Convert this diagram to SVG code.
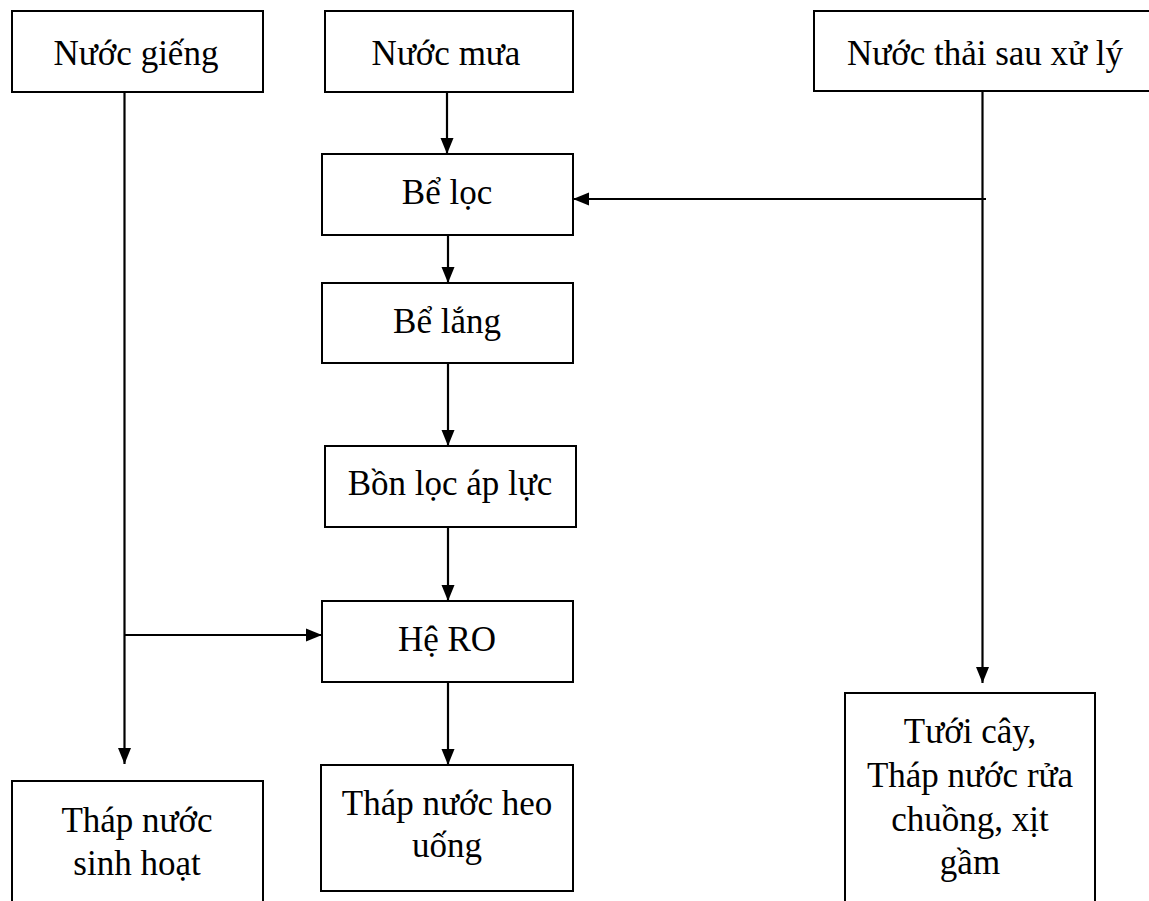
<svg xmlns="http://www.w3.org/2000/svg" width="1149" height="901" viewBox="0 0 1149 901">
<defs>
<marker id="arr" markerWidth="16" markerHeight="14" refX="16" refY="7" orient="auto" markerUnits="userSpaceOnUse">
<path d="M0,0.5 L16,7 L0,13.5 Z" fill="#000"/>
</marker>
<style>
.box{fill:#fff;stroke:#000;stroke-width:2}
.t{font-family:"Liberation Serif","Times New Roman",serif;font-size:35px;fill:#000;text-anchor:middle}
.c{stroke:#000;stroke-width:2.2;fill:none}
</style>
</defs>
<rect width="1149" height="901" fill="#fff"/>
<g id="connectors">
<line class="c" x1="124.5" y1="92" x2="124.5" y2="764" marker-end="url(#arr)"/>
<line class="c" x1="124.5" y1="635" x2="322" y2="635" marker-end="url(#arr)"/>
<line class="c" x1="447" y1="92" x2="447" y2="154" marker-end="url(#arr)"/>
<line class="c" x1="448" y1="235" x2="448" y2="283" marker-end="url(#arr)"/>
<line class="c" x1="448" y1="363" x2="448" y2="446" marker-end="url(#arr)"/>
<line class="c" x1="448" y1="527" x2="448" y2="601" marker-end="url(#arr)"/>
<line class="c" x1="448" y1="682" x2="448" y2="765" marker-end="url(#arr)"/>
<line class="c" x1="982.5" y1="92" x2="982.5" y2="683" marker-end="url(#arr)"/>
<line class="c" x1="986" y1="199" x2="573" y2="199" marker-end="url(#arr)"/>
</g>
<g id="n-nuoc-gieng">
<rect class="box" x="12" y="11" width="251" height="81"/>
<text class="t" x="136" y="65">Nước giếng</text>
</g>
<g id="n-nuoc-mua">
<rect class="box" x="325" y="11" width="248" height="81"/>
<text class="t" x="446" y="65">Nước mưa</text>
</g>
<g id="n-nuoc-thai">
<rect class="box" x="814" y="11" width="340" height="80"/>
<text class="t" x="985" y="65">Nước thải sau xử lý</text>
</g>
<g id="n-be-loc">
<rect class="box" x="322" y="154" width="251" height="81"/>
<text class="t" x="447" y="204">Bể lọc</text>
</g>
<g id="n-be-lang">
<rect class="box" x="322" y="283" width="251" height="80"/>
<text class="t" x="447" y="333">Bể lắng</text>
</g>
<g id="n-bon-loc">
<rect class="box" x="325" y="446" width="251" height="81"/>
<text class="t" x="450" y="495">Bồn lọc áp lực</text>
</g>
<g id="n-he-ro">
<rect class="box" x="322" y="601" width="251" height="81"/>
<text class="t" x="447" y="651">Hệ RO</text>
</g>
<g id="n-thap-heo">
<rect class="box" x="321" y="765" width="252" height="126"/>
<text class="t" x="447" y="815">Tháp nước heo</text>
<text class="t" x="447" y="857">uống</text>
</g>
<g id="n-thap-sinh-hoat">
<rect class="box" x="12" y="781" width="251" height="130"/>
<text class="t" x="137" y="832">Tháp nước</text>
<text class="t" x="137" y="875">sinh hoạt</text>
</g>
<g id="n-tuoi-cay">
<rect class="box" x="845" y="693" width="250" height="220"/>
<text class="t" x="970" y="743">Tưới cây,</text>
<text class="t" x="970" y="787">Tháp nước rửa</text>
<text class="t" x="970" y="831">chuồng, xịt</text>
<text class="t" x="970" y="874">gầm</text>
</g>
</svg>
